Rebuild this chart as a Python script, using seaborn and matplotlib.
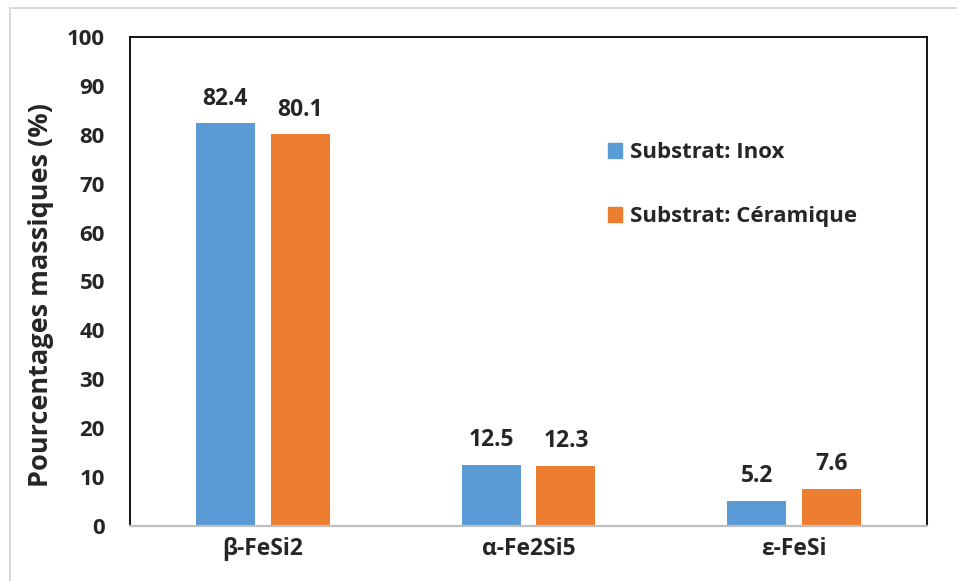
import matplotlib
matplotlib.use("Agg")
import matplotlib.pyplot as plt
import matplotlib.patches as mpatches
import seaborn as sns
import pandas as pd

phases = ["β-FeSi2", "α-Fe2Si5", "ε-FeSi"]
substrats = ["Substrat: Inox", "Substrat: Céramique"]
inox = [82.4, 12.5, 5.2]
ceramique = [80.1, 12.3, 7.6]
yticks = [0, 10, 20, 30, 40, 50, 60, 70, 80, 90, 100]
colors = ["#5B9BD5", "#ED7D31"]

df = pd.DataFrame({
    "phase": phases * 2,
    "substrat": [substrats[0]] * 3 + [substrats[1]] * 3,
    "valeur": inox + ceramique,
})

sns.set_theme(style="white")
plt.rcParams["font.family"] = ["Open Sans", "DejaVu Sans"]
plt.rcParams["font.weight"] = "bold"

fig = plt.figure(figsize=(9.57, 5.81), dpi=100)
ax = fig.add_axes([0.1358, 0.0947, 0.8329, 0.8416])

sns.barplot(data=df, x="phase", y="valeur", hue="substrat",
            palette=colors, width=0.564, gap=0.213, errorbar=None,
            saturation=1, ax=ax, linewidth=0)

for cont in ax.containers:
    ax.bar_label(cont, fmt="%.1f", padding=9, fontsize=16.5, fontweight="bold")

ax.set_ylim(0, 100)
ax.set_xlim(-0.5, 2.5)
ax.set_yticks(yticks)
ax.set_yticklabels([str(v) for v in yticks], fontsize=16, fontweight="bold")
ax.set_xticks(range(len(phases)))
ax.set_xticklabels(phases, fontsize=16.5, fontweight="bold")
ax.tick_params(axis="x", length=0, pad=8)
ax.tick_params(axis="y", length=0, pad=18)
ax.set_xlabel("")
ax.set_ylabel("Pourcentages massiques (%)", fontsize=19.5, fontweight="bold")
ax.yaxis.set_label_coords(-0.095, 0.472)

for side in ["left", "top", "right"]:
    ax.spines[side].set_color("black")
    ax.spines[side].set_linewidth(1.3)
ax.spines["bottom"].set_color("#bfbfbf")
ax.spines["bottom"].set_linewidth(1.6)

handles = [mpatches.Patch(color=c, label=l) for c, l in zip(colors, substrats)]
ax.legend(handles=handles, loc="upper left", bbox_to_anchor=(0.614, 0.79),
          bbox_transform=fig.transFigure, frameon=False,
          handlelength=0.65, handleheight=0.65, handletextpad=0.35,
          labelspacing=1.95, prop={"weight": "bold", "size": 16})

border = mpatches.Rectangle((10 / 957, -0.05), 1.0, 1 - 8 / 581 + 0.05,
                            transform=fig.transFigure, fill=False,
                            edgecolor="#d9d9d9", linewidth=1.5)
fig.add_artist(border)

fig.savefig("out.png", dpi=100)
